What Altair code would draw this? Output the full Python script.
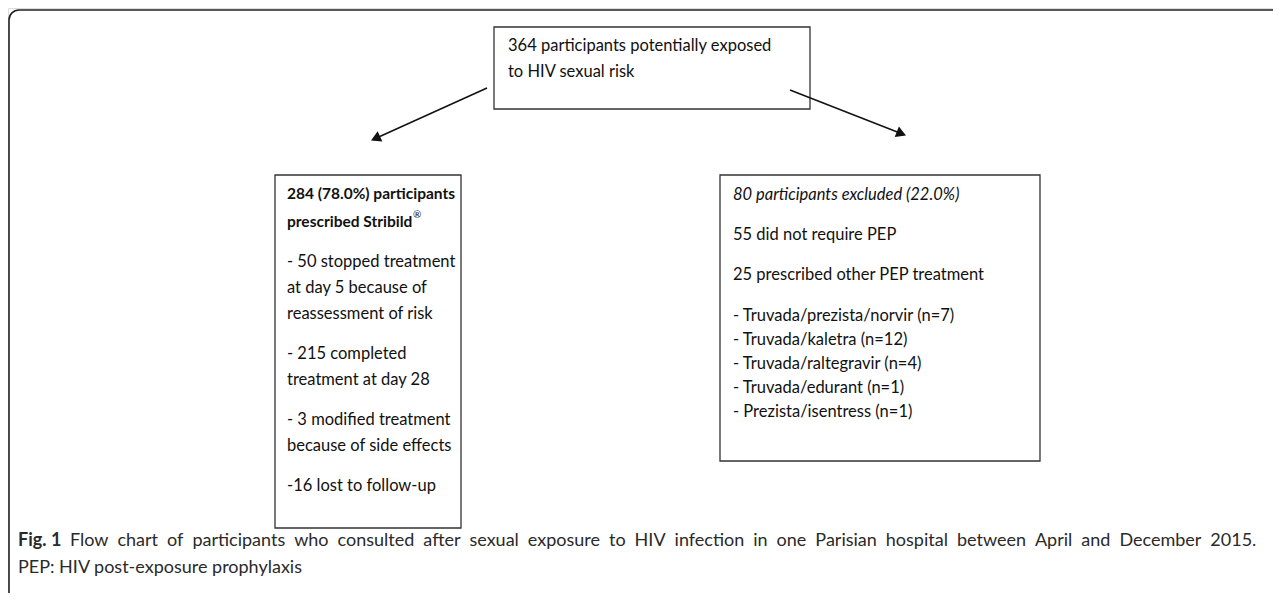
import altair as alt
import pandas as pd
import numpy as np

# ---------------- content ----------------
top_lines = ["364 participants potentially exposed", "to HIV sexual risk"]
left_head = ["284 (78.0%) participants", "prescribed Stribild"]
left_sup = "®"
left_items = ["- 50 stopped treatment", "at day 5 because of", "reassessment of risk",
              "- 215 completed", "treatment at day 28",
              "- 3 modified treatment", "because of side effects",
              "-16 lost to follow-up"]
right_head = ["80 participants excluded (22.0%)"]
right_items = ["55 did not require PEP", "25 prescribed other PEP treatment",
               "- Truvada/prezista/norvir (n=7)", "- Truvada/kaletra (n=12)",
               "- Truvada/raltegravir (n=4)", "- Truvada/edurant (n=1)",
               "- Prezista/isentress (n=1)"]
caption_bold = ["Fig. 1"]
caption_lines = ["Flow chart of participants who consulted after sexual exposure to HIV infection in one Parisian hospital between April and December 2015.",
                 "PEP: HIV post-exposure prophylaxis"]

# ---------------- layout (page pixel coordinates) ----------------
box_x = [494, 275, 720]
box_x2 = [810, 461, 1040]
box_y = [27, 175, 175]
box_y2 = [109, 528, 461]

top_xy = ([508, 508], [46, 72])
lhead_xy = ([287, 287], [194, 222])
lsup_xy = ([413], [215])
litem_xy = ([287] * 8, [262, 288, 314, 354, 380, 420, 446, 486])
rhead_xy = ([733], [195])
ritem_xy = ([733] * 7, [235, 275, 316, 340, 364, 388, 412])
capb_xy = ([18], [541])
capr_xy = ([70, 18], [541, 568])

arrow_from = [(487, 88), (790, 90)]
arrow_to = [(372, 140), (905, 135)]

W, H = 1265, 585
X = alt.X("x:Q", scale=alt.Scale(domain=[8, 8 + W]), axis=None)
Y = alt.Y("y:Q", scale=alt.Scale(domain=[8, 8 + H], reverse=True), axis=None)


def tdf(lines, xy):
    return pd.DataFrame({"x": xy[0], "y": xy[1], "text": lines})


# the first caption line is justified in the original: widen its word gaps
caption_display = [caption_lines[0].replace(" ", "\u2002"), caption_lines[1]]

BOX_FONT = "Lato"
CAP_FONT = "Lato"
FS = 16.5

frame = alt.Chart(pd.DataFrame({"x": [9], "x2": [1300], "y": [10], "y2": [660]})).mark_rect(
    fillOpacity=0, stroke="#222", strokeWidth=1.6, cornerRadius=10, clip=True
).encode(x=X, x2="x2:Q", y=Y, y2="y2:Q")

boxes = alt.Chart(pd.DataFrame({"x": box_x, "x2": box_x2, "y": box_y, "y2": box_y2})).mark_rect(
    fill="white", stroke="#333", strokeWidth=1.3
).encode(x=X, x2="x2:Q", y=Y, y2="y2:Q")

# arrows
rows, heads = [], []
for (x0, y0), (x1, y1) in zip(arrow_from, arrow_to):
    dx, dy = x1 - x0, y1 - y0
    L = np.hypot(dx, dy)
    ux, uy = dx / L, dy / L
    cx, cy = x1 - 5.5 * ux, y1 - 5.5 * uy
    rows.append({"x": x0, "y": y0, "x2": cx, "y2": cy})
    ang = np.degrees(np.arctan2(dx, -dy)) % 360
    heads.append({"x": cx, "y": cy, "angle": ang})

lines = alt.Chart(pd.DataFrame(rows)).mark_rule(color="#111", strokeWidth=1.5).encode(
    x=X, x2="x2:Q", y=Y, y2="y2:Q")
tips = alt.Chart(pd.DataFrame(heads)).mark_point(
    shape="triangle", filled=True, size=130, color="#111", opacity=1
).encode(x=X, y=Y, angle=alt.Angle("angle:Q", scale=None))


def txt(df, **kw):
    base = dict(align="left", baseline="middle", font=BOX_FONT, fontSize=FS, color="#111")
    base.update(kw)
    return alt.Chart(df).mark_text(**base).encode(x=X, y=Y, text="text:N")


t_top = txt(tdf(top_lines, top_xy))
t_lhead = txt(tdf(left_head, lhead_xy), fontWeight="bold", fontSize=15.5)
t_lsup = txt(tdf([left_sup], lsup_xy), fontSize=10)
t_litem = txt(tdf(left_items, litem_xy))
t_rhead = txt(tdf(right_head, rhead_xy), fontStyle="italic")
t_ritem = txt(tdf(right_items, ritem_xy))
t_capb = txt(tdf(caption_bold, capb_xy), font=CAP_FONT, fontSize=18, fontWeight="bold", color="#2a2a2a")
t_capr = txt(tdf(caption_display, capr_xy), font=CAP_FONT, fontSize=18, color="#2a2a2a")

chart = alt.layer(frame, boxes, lines, tips, t_top, t_lhead, t_lsup, t_litem,
                  t_rhead, t_ritem, t_capb, t_capr).properties(
    width=W, height=H, padding=0, autosize=alt.AutoSizeParams(type="none")
).configure_view(strokeWidth=0).configure(background="white")

chart.save("out.html", embed_options={"renderer": "svg", "actions": False})
